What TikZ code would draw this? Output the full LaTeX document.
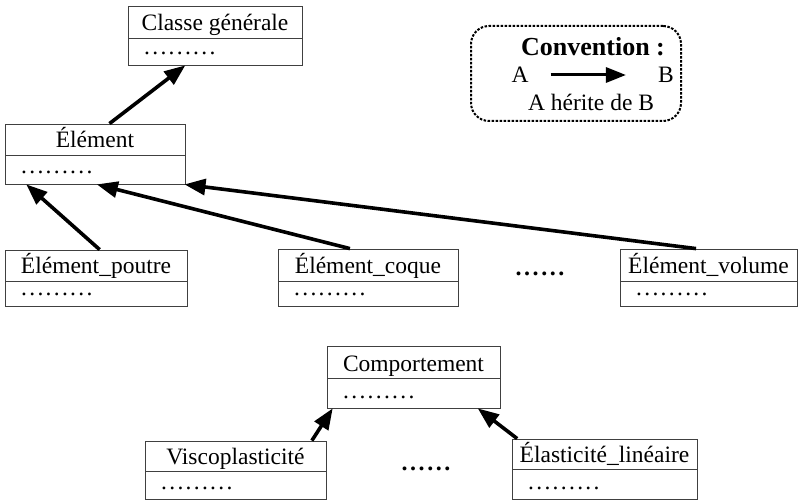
\documentclass[tikz,border=0pt]{standalone}
\usepackage{fontspec}
\setmainfont{Liberation Serif}
\usetikzlibrary{arrows.meta,fit,calc}
\tikzset{
  boxline/.style={draw=black!75, line width=0.8pt},
  ttl/.style={font=\fontsize{23.5}{28}\selectfont, inner sep=0pt, anchor=base},
  dotst/.style={font=\fontsize{23.5}{28}\selectfont, inner sep=0pt, anchor=base west},
  bigdots/.style={font=\fontsize{24}{28}\selectfont\bfseries, inner sep=0pt, anchor=base},
  inh/.style={line width=3.6pt, -{Triangle[length=21pt,width=16pt]}},
  conv/.style={draw, dash pattern=on 2.5pt off 1.5pt, line width=2pt, rounded corners=18pt},
}
\newcommand\dotrow{.\kern2.3pt.\kern2.3pt.\kern2.3pt.\kern2.3pt.\kern2.3pt.\kern2.3pt.\kern2.3pt.\kern2.3pt.}
\newcommand\bigdotrow{.\kern2.6pt.\kern2.6pt.\kern2.6pt.\kern2.6pt.\kern2.6pt.}
% name, x1, y1, x2, ydiv, y2, title
\newcommand\cbox[7]{%
  \node[fit={(#2,#3) (#4,#6)}, inner sep=0pt, boxline] (#1) {};
  \draw[boxline] (#2,#5) -- (#4,#5);
  \node[ttl] (#1t) at ({(#2+#4)/2},{#5-7}) {#7};
  \node[dotst] (#1d) at ({#2+16},{#6-10}) {\dotrow};
}
\begin{document}
\begin{tikzpicture}[x=1pt,y=-1pt]
\useasboundingbox (0,0) rectangle (800,502);
\cbox{cg}{128}{6}{302}{38}{65}{Classe générale}
\cbox{el}{5}{124}{185}{155}{184}{Élément}
\cbox{ep}{5}{250}{187}{281}{306}{Élément\_poutre}
\cbox{ec}{278}{249}{458}{281}{306}{Élément\_coque}
\cbox{ev}{620}{249}{797}{281}{306}{Élément\_volume}
\cbox{co}{327}{346}{500}{378}{408}{Comportement}
\cbox{vi}{145}{441}{326}{471}{499}{Viscoplasticité}
\cbox{ea}{512}{439}{697}{469}{499}{Élasticité\_linéaire}

\node[bigdots] (dots1) at (540,276) {\bigdotrow};
\node[bigdots] (dots2) at (426,470) {\bigdotrow};

\draw[inh] ($(el.north west)!0.58!(el.north east)$) -- ($(cg.south west)!0.33!(cg.south east)$);
\draw[inh] ($(ep.north west)!0.52!(ep.north east)$) -- ($(el.south west)!0.12!(el.south east)$);
\draw[inh] ($(ec.north west)!0.40!(ec.north east)$) -- ($(el.south west)!0.51!(el.south east)$);
\draw[inh] ($(ev.north west)!0.43!(ev.north east)$) -- ($(el.south west)!0.995!(el.south east)$);
\draw[inh] ($(vi.north west)!0.92!(vi.north east)$) -- ($(co.south west)!0.035!(co.south east)$);
\draw[inh] ($(ea.north west)!0.03!(ea.north east)$) -- ($(co.south west)!0.87!(co.south east)$);

\node[conv, fit={(471,26) (681,121)}, inner sep=0pt] (convbox) {};
\node[ttl, font=\fontsize{26}{30}\selectfont\bfseries] (convt) at (593,56) {Convention :};
\node[ttl] (cA) at (520,83) {A};
\node[ttl] (cB) at (666,83) {B};
\node[ttl] (ch) at (591,111) {A hérite de B};
\draw[line width=3pt, -{Triangle[length=20pt,width=15pt]}, shorten <=22pt, shorten >=32pt] (cA.east |- 0,75) coordinate (ca) (ca) -- (cB.west |- ca);
\end{tikzpicture}
\end{document}
